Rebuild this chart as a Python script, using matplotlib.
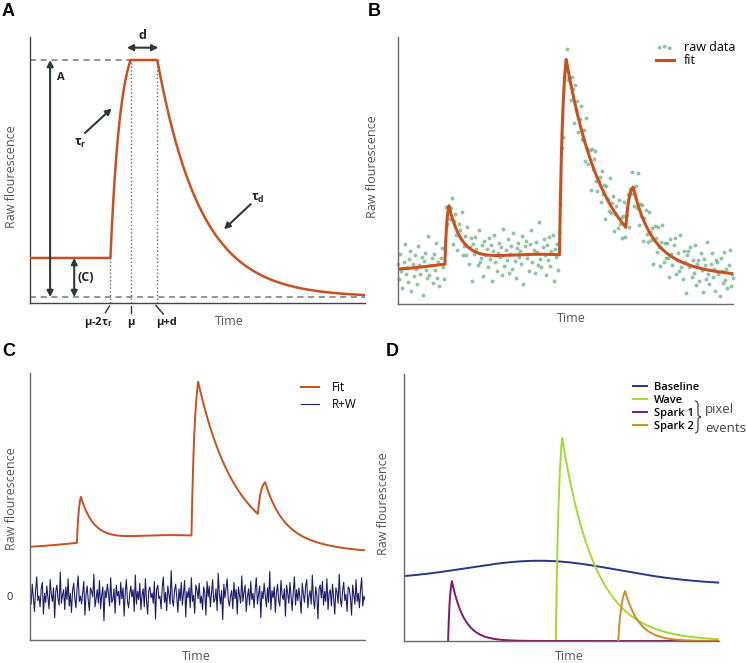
import numpy as np
import matplotlib.pyplot as plt
from matplotlib.path import Path
from matplotlib.patches import PathPatch

W, H = 747, 663

plt.rcParams['font.family'] = ['Open Sans', 'DejaVu Sans']
plt.rcParams['mathtext.fontset'] = 'custom'
plt.rcParams['mathtext.bf'] = 'Open Sans:bold'
plt.rcParams['mathtext.rm'] = 'Open Sans'

# ── panel A: single event model ──────────────────────────────────────────────
model_C = 0.165
model_A = 1.0
model_mu = 30.0
model_tau_r = 3.0
model_d = 8.0
model_tau_d = 13.0

# ── panels B-D: baseline + pixel events ──────────────────────────────────────
base_level = 61.0
base_slope = -0.04
bump_height = 21.0
bump_center = 44.0
bump_width = 24.0

event_names = ['Wave', 'Spark 1', 'Spark 2']
event_onset = [48.2, 14.0, 68.0]
event_tau_r = [1.0, 0.6, 1.1]
event_amp = [203.0, 60.0, 50.0]
event_tau_d = [10.5, 4.0, 4.5]

# residuals (raw data - fit) in steps of resid_unit
resid_unit = 1.2
resid = [
    4, -9, 13, -2, -17, 6, 21, -5, 0, -12, 8, 15, -20, 3, -7, 11, -1, -14, 18, 2,
    -6, 9, -24, 5, 12, -3, -10, 26, -8, 1, 7, -15, 10, -4, 19, -11, 3, -18, 6, 14,
    -2, -13, 8, 22, -6, 0, -9, 4, 16, -21, 2, 11, -5, -16, 9, 5, -1, 24, -12, -3,
    7, -8, 17, -14, 1, 10, -27, 6, -2, 13, 3, -11, 20, -7, -4, 8, -19, 12, 0, 5,
    -10, 15, -3, 9, -22, 4, 18, -6, -13, 2, 11, -1, 7, -17, 23, -9, 5, -4, 14, -15,
    1, 8, -12, 19, -5, -20, 6, 10, -2, 3, -8, 16, -25, 7, 12, -3, 0, -14, 9, 21,
    -7, 4, -16, 11, 2, -9, 28, -4, -11, 6, 13, -1, -18, 8, -5, 15, -10, 3, 17, -23,
    5, -2, 9, -13, 20, -6, 1, -19, 12, 7, -3, 14, -8, 0, -15, 10, 4, -21, 16, -1,
    11, -12, 3, 18, -7, -4, 8, -16, 25, 2, -9, 6, -26, 13, -2, 9, 19, -5, -11, 0,
    6, -14, 15, -3, 7, -20, 10, 1, -8, 22, -6, 4, 12, -17, -1, 8, -10, 16, -4, 3,
    -13, 7, 20, -9, 2, 11, -24, 5, -3, 14, 0, -12, 9, -7, 27, -15, 6, -2, 10, -18,
    4, 13, -6, -11, 17, 1, -4, 8, -22, 12, 3, -8, 15, -1, -16, 5, 21, -10, 7, -5,
    9, -3, -19, 14, 2, -7, 11, 18, -13, 0, 6, -9, 23, -4, -14, 10, 1, -25, 8, 12,
    -2, 16, -10, 5, -6, 19, -15, 3, 7, -11, 13, -1, -20, 9, 4, -8, 24, -3, -12, 6,
    15, -5, 2, -17, 10, 8, -2, -21, 12, 1, -9, 18, -6, 3, -13, 7, 20, -11, 0, -4,
]

ORANGE = '#c9501f'
DARK = '#2d3b38'
GREY = '#555555'
SPINE = '#6a6a6a'
event_colors = ['#a6d930', '#801770', '#d08a2a']


def rise_decay(t, t0, tau_r, amp, tau_d, d=0.0, start=0.0):
    mu = t0 + 2 * tau_r
    y = np.full_like(t, start, dtype=float)
    r = (t >= t0) & (t < mu)
    y[r] = start + (amp - start) * (1 - np.exp(-(t[r] - t0) / tau_r)) / (1 - np.exp(-2))
    p = (t >= mu) & (t < mu + d)
    y[p] = amp
    k = t >= mu + d
    y[k] = amp * np.exp(-(t[k] - mu - d) / tau_d)
    return y


def baseline(t):
    return (base_level + base_slope * t
            + bump_height * np.exp(-0.5 * ((t - bump_center) / bump_width) ** 2))


def event(t, i):
    return rise_decay(t, event_onset[i], event_tau_r[i], event_amp[i], event_tau_d[i])


def fit(t):
    return baseline(t) + sum(event(t, i) for i in range(len(event_names)))


def fx(x):
    return x / W


def fy(y):
    return 1 - y / H


def add_axes(left, top, right, bottom):
    ax = fig.add_axes([fx(left), fy(bottom), (right - left) / W, (bottom - top) / H])
    for s in ('top', 'right'):
        ax.spines[s].set_visible(False)
    for s in ('left', 'bottom'):
        ax.spines[s].set_color(SPINE)
        ax.spines[s].set_linewidth(1.0)
    ax.set_xticks([])
    ax.set_yticks([])
    ax.set_xlim(0, 100)
    return ax


def labels(xy_y, xy_t):
    fig.text(fx(xy_y[0]), fy(xy_y[1]), 'Raw flourescence', rotation=90,
             ha='center', va='center', fontsize=9, color=GREY)
    fig.text(fx(xy_t[0]), fy(xy_t[1]), 'Time', ha='center', va='center',
             fontsize=9, color=GREY)


fig = plt.figure(figsize=(W / 100, H / 100), dpi=100)
t = np.linspace(0, 100, 4001)
t_samples = np.linspace(0, 100, len(resid))
noise = np.array(resid) * resid_unit
raw = fit(t_samples) + noise

# ── A ────────────────────────────────────────────────────────────────────────
axA = add_axes(30, 37, 365, 303)
axA.spines['left'].set_color('#444')
axA.spines['bottom'].set_color('#444')
axA.set_ylim(-0.025, 1.097)
onset = model_mu - 2 * model_tau_r
axA.plot(t, rise_decay(t, onset, model_tau_r, model_A, model_tau_d,
                       d=model_d, start=model_C),
         color=ORANGE, lw=1.8, zorder=3)
dash = dict(color='#777', lw=1.1, dashes=(4, 3))
axA.plot([0, model_mu], [model_A, model_A], **dash)
axA.plot([0, 100], [0, 0], **dash)
dot = dict(color='#666', lw=1.0, ls=':')
axA.plot([onset, onset], [-0.025, model_C], **dot)
axA.plot([model_mu, model_mu], [-0.025, model_A], **dot)
axA.plot([model_mu + model_d] * 2, [-0.025, model_A], **dot)

arr2 = dict(arrowstyle='<|-|>', color=DARK, lw=1.5, mutation_scale=9,
            shrinkA=0, shrinkB=0)
arr1 = dict(arrowstyle='-|>', color=DARK, lw=1.5, mutation_scale=9,
            shrinkA=0, shrinkB=0)
axA.annotate('', xy=(6, 0), xytext=(6, model_A), arrowprops=arr2)
axA.annotate('', xy=(13.2, 0), xytext=(13.2, model_C), arrowprops=arr2)
axA.annotate('', xy=(28.9, 1.052), xytext=(38.3, 1.052), arrowprops=arr2,
             annotation_clip=False)
axA.annotate('', xy=(24.4, 0.796), xytext=(16.4, 0.692), arrowprops=arr1)
axA.annotate('', xy=(57.9, 0.286), xytext=(65.9, 0.392), arrowprops=arr1)

bold = dict(fontweight='bold', color='#222', ha='center', va='center')
axA.text(9.2, 0.928, 'A', fontsize=8, **bold)
axA.text(16.6, 0.084, '(C)', fontsize=9, **bold)
axA.text(33.6, 1.105, 'd', fontsize=9, clip_on=False, **bold)
axA.text(15.0, 0.65, 'τ$_\\mathbf{r}$', fontsize=9, **bold)
axA.text(68.0, 0.418, 'τ$_\\mathbf{d}$', fontsize=9, **bold)

tick = dict(color='#333', lw=1.0, clip_on=False)
axA.plot([23.7, 22.5], [-0.038, -0.066], **tick)
axA.plot([model_mu, model_mu], [-0.036, -0.069], **tick)
axA.plot([37.6, 39.8], [-0.035, -0.072], **tick)
axA.text(20.4, -0.108, 'μ-2τ$_\\mathbf{r}$', fontsize=8, **bold)
axA.text(30.1, -0.108, 'μ', fontsize=8, **bold)
axA.text(40.6, -0.108, 'μ+d', fontsize=8, **bold)
labels((12, 177), (229, 321))

# ── B ────────────────────────────────────────────────────────────────────────
axB = add_axes(398, 37, 733, 304)
axB.set_ylim(28.7, 305.7)
axB.scatter(t_samples, raw, s=8, color='#5fae7f', alpha=0.7, lw=0,
            label='raw data', clip_on=False)
axB.plot(t, fit(t), color=ORANGE, lw=2.2, label='fit')
axB.legend(loc='upper left', bbox_to_anchor=(fx(656), fy(41)),
           bbox_transform=fig.transFigure, frameon=False, borderpad=0,
           borderaxespad=0, scatterpoints=3, handlelength=1.4,
           handletextpad=0.8, labelspacing=0.0,
           prop=dict(family='Open Sans', size=9))
labels((373, 167), (571.5, 318))

# ── C ────────────────────────────────────────────────────────────────────────
axC = add_axes(30, 373, 365, 640)
axC.set_ylim(-58, 294)
axC.plot(t, fit(t), color=ORANGE, lw=1.4, label='Fit')
axC.plot(t_samples, noise, color='#1c1c6b', lw=0.8, label='R+W')
axC.set_yticks([0])
axC.tick_params(axis='y', length=0, pad=12, labelsize=8, labelcolor='#333')
axC.legend(loc='upper left', bbox_to_anchor=(fx(301), fy(381)),
           bbox_transform=fig.transFigure, frameon=False, borderpad=0,
           borderaxespad=0, handlelength=1.5, handletextpad=1.1,
           labelspacing=0.35, prop=dict(family='Open Sans', size=8.5))
labels((12, 499), (196.7, 656.7))

# ── D ────────────────────────────────────────────────────────────────────────
axD = add_axes(404, 374, 719, 641)
axD.set_ylim(0, 267)
axD.plot(t, baseline(t), color='#27378a', lw=1.4, label='Baseline')
for i, name in enumerate(event_names):
    m = t >= event_onset[i]
    axD.plot(t[m], event(t, i)[m], color=event_colors[i], lw=1.4, label=name)
axD.legend(loc='upper left', bbox_to_anchor=(fx(633), fy(382)),
           bbox_transform=fig.transFigure, frameon=False, borderpad=0,
           borderaxespad=0, handlelength=1.3, handletextpad=0.6,
           labelspacing=0.18,
           prop=dict(family='Open Sans', size=8, weight='semibold'))
labels((383, 504), (569, 656.7))

# brace grouping the pixel events
x0, x1, x2 = 695, 698, 701
ytop, ymid, ybot = 401, 417, 433
verts = [(x0, ytop), (x1, ytop), (x1, ytop + 4), (x1, ymid - 3),
         (x1, ymid), (x2, ymid), (x1, ymid), (x1, ymid + 3),
         (x1, ybot - 4), (x1, ybot), (x0, ybot)]
codes = [Path.MOVETO, Path.CURVE3, Path.CURVE3, Path.LINETO,
         Path.CURVE3, Path.CURVE3, Path.CURVE3, Path.CURVE3,
         Path.LINETO, Path.CURVE3, Path.CURVE3]
brace = Path([(fx(x), fy(y)) for x, y in verts], codes)
fig.add_artist(PathPatch(brace, transform=fig.transFigure, fill=False,
                         lw=0.9, edgecolor='#444'))
fig.text(fx(705), fy(410), 'pixel', fontsize=9.5, color='#444', va='center')
fig.text(fx(705), fy(429), 'events', fontsize=9.5, color='#444', va='center')

# panel letters
for letter, (x, y) in zip('ABCD', [(2, 3), (368, 3), (2, 343), (386, 343)]):
    fig.text(fx(x), fy(y), letter, fontsize=13, fontweight='bold',
             family='Liberation Sans', ha='left', va='top')

fig.savefig('out.png', dpi=100)
